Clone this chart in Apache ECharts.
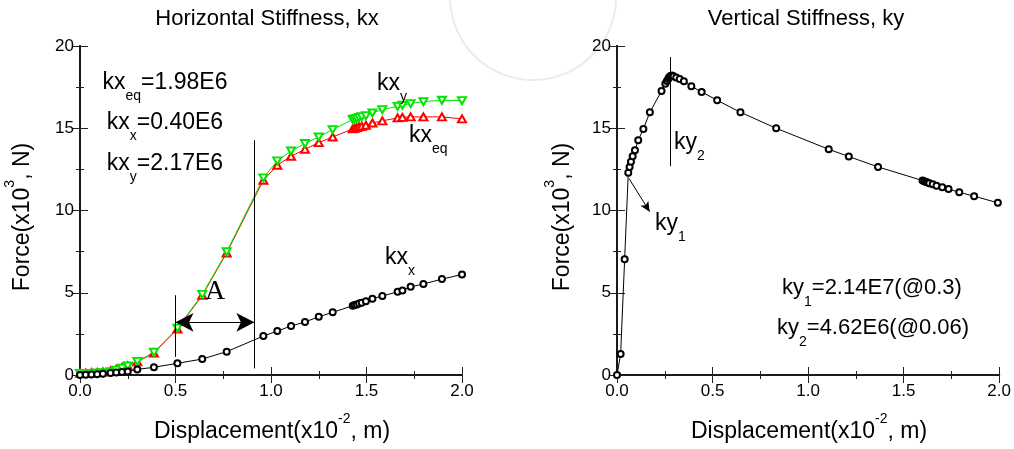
<!DOCTYPE html>
<html>
<head>
<meta charset="utf-8">
<style>
  html, body { margin: 0; padding: 0; background: #fff; }
  #chart { width: 1014px; height: 449px; }
</style>
<script src="https://cdn.jsdelivr.net/npm/echarts@6/dist/echarts.min.js"></script>
</head>
<body>
<div id="chart"></div>
<script>
// ---- left panel: horizontal stiffness (displacement x10^-2 m, force x10^3 N)
const dispH = [0, 0.03, 0.06, 0.09, 0.12, 0.16, 0.19, 0.22, 0.25, 0.30, 0.387, 0.51, 0.64, 0.768,
  0.96, 1.033, 1.105, 1.178, 1.25, 1.323, 1.428, 1.438, 1.449, 1.461, 1.475, 1.497, 1.531,
  1.583, 1.663, 1.688, 1.731, 1.798, 1.895, 2.0];
const kxEq = [0.1, 0.12, 0.14, 0.15, 0.18, 0.25, 0.35, 0.45, 0.55, 0.80, 1.34, 2.8, 4.84, 7.42,
  11.84, 12.75, 13.3, 13.72, 14.13, 14.47, 14.96, 15.0, 15.04, 15.08, 15.12, 15.18, 15.32,
  15.45, 15.63, 15.66, 15.69, 15.69, 15.69, 15.57];
const kxY = [0.1, 0.1, 0.1, 0.12, 0.14, 0.2, 0.3, 0.42, 0.55, 0.83, 1.38, 2.85, 4.9, 7.49,
  11.98, 13.02, 13.62, 14.07, 14.47, 14.92, 15.53, 15.57, 15.6, 15.65, 15.71, 15.77, 15.93,
  16.13, 16.33, 16.4, 16.5, 16.62, 16.7, 16.68];
const kxX = [0.0, 0.02, 0.03, 0.05, 0.07, 0.12, 0.15, 0.18, 0.22, 0.34, 0.47, 0.71, 0.97, 1.42,
  2.37, 2.67, 2.98, 3.22, 3.54, 3.81, 4.21, 4.25, 4.29, 4.35, 4.39, 4.49, 4.64,
  4.80, 5.06, 5.14, 5.36, 5.53, 5.83, 6.11];

// ---- right panel: vertical stiffness
const dispV = [0, 0.019, 0.040, 0.059, 0.066, 0.073, 0.082, 0.094, 0.111, 0.138, 0.172, 0.233,
  0.253, 0.261, 0.268, 0.272, 0.275, 0.280, 0.287, 0.296, 0.310, 0.328, 0.350, 0.389, 0.443,
  0.524, 0.646, 0.833, 1.108, 1.213, 1.366, 1.599, 1.608, 1.617, 1.625, 1.634, 1.652, 1.672,
  1.702, 1.735, 1.791, 1.869, 1.993];
const ky = [0, 1.28, 7.04, 12.29, 12.65, 12.96, 13.30, 13.66, 14.27, 14.96, 15.97, 17.27,
  17.71, 17.87, 18.00, 18.08, 18.12, 18.18, 18.20, 18.16, 18.08, 18.00, 17.85, 17.55, 17.21,
  16.70, 15.97, 15.00, 13.72, 13.28, 12.65, 11.82, 11.78, 11.74, 11.70, 11.66, 11.60, 11.50,
  11.42, 11.30, 11.11, 10.87, 10.47];

// tick labels
const xTicks = [0.0, 0.5, 1.0, 1.5, 2.0];
const yTicks = [0, 5, 10, 15, 20];

const FONT = '"Liberation Sans", Arial, sans-serif';
const zip = (xs, ys) => xs.map((x, i) => [x, ys[i]]);

const chart = echarts.init(document.getElementById('chart'));

const tickCommon = {
  axisLine: { show: true, lineStyle: { color: '#1a1a1a', width: 2 } },
  axisTick: { show: true, inside: true, length: 8, lineStyle: { color: '#222', width: 1 } },
  minorTick: { show: true, splitNumber: 2, length: 4, lineStyle: { color: '#222', width: 1 } },
  splitLine: { show: false }
};

const makeX = (gridIndex, position) => ({
  type: 'value', gridIndex, position,
  min: xTicks[0], max: xTicks[xTicks.length - 1], interval: xTicks[1] - xTicks[0],
  ...tickCommon,
  axisLabel: {
    show: position === 'bottom', fontSize: 17, color: '#000', fontFamily: FONT, margin: 8,
    formatter: v => v.toFixed(1)
  }
});
const makeY = (gridIndex, position) => ({
  type: 'value', gridIndex, position,
  min: yTicks[0], max: yTicks[yTicks.length - 1], interval: yTicks[1] - yTicks[0],
  ...tickCommon,
  axisLabel: { show: position === 'left', fontSize: 17, color: '#000', fontFamily: FONT, margin: 6 }
});

const lineMark = (data) => ({
  silent: true, symbol: 'none', animation: false,
  label: { show: false },
  lineStyle: { color: '#000', width: 1, type: 'solid' },
  data
});

// subscripts: main glyphs hang from the top of the line box, the small ones sit at its bottom
const rich = {
  m: { fontSize: 23, lineHeight: 26, verticalAlign: 'top', fontFamily: FONT, color: '#000' },
  n: { fontSize: 22, lineHeight: 26, verticalAlign: 'top', fontFamily: FONT, color: '#000' },
  s: { fontSize: 14, lineHeight: 32, verticalAlign: 'bottom', fontFamily: FONT, color: '#000' }
};
// superscripts: the other way round
const richSup = {
  m: { fontSize: 23, lineHeight: 31, verticalAlign: 'bottom', fontFamily: FONT, color: '#000' },
  p: { fontSize: 14, lineHeight: 12, verticalAlign: 'top', fontFamily: FONT, color: '#000' }
};

const label = (text, x, y, align) => ({
  type: 'text', x, y, z: 50,
  style: { text, rich, textAlign: align || 'left', textVerticalAlign: 'top' }
});
const plain = (text, x, y, size, family) => ({
  type: 'text', x, y, z: 50,
  style: { text, fontSize: size, fontFamily: family || FONT, fill: '#000', textAlign: 'center', textVerticalAlign: 'middle' }
});
const axisName = (text, x, y, rotation) => ({
  type: 'text', x, y, rotation: rotation || 0, z: 50,
  style: { text, rich: richSup, textAlign: 'center', textVerticalAlign: 'middle' }
});

chart.setOption({
  animation: false,
  backgroundColor: '#fff',
  grid: [
    { left: 80, top: 46, width: 382, height: 329 },
    { left: 617, top: 46, width: 383, height: 329 }
  ],
  xAxis: [makeX(0, 'bottom'), makeX(0, 'top'), makeX(1, 'bottom'), makeX(1, 'top')],
  yAxis: [makeY(0, 'left'), makeY(0, 'right'), makeY(1, 'left'), makeY(1, 'right')],
  series: [
    {
      name: 'kx_eq', type: 'line', xAxisIndex: 0, yAxisIndex: 0,
      data: zip(dispH, kxEq),
      symbol: 'emptyTriangle', symbolSize: [8, 7],
      itemStyle: { color: '#ff0000', borderWidth: 1 },
      lineStyle: { color: '#ff0000', width: 1 }
    },
    {
      name: 'kx_y', type: 'line', xAxisIndex: 0, yAxisIndex: 0,
      data: zip(dispH, kxY),
      symbol: 'emptyTriangle', symbolRotate: 180, symbolSize: [8, 7],
      itemStyle: { color: '#00e600', borderWidth: 1 },
      lineStyle: { color: '#00e600', width: 1 }
    },
    {
      name: 'kx_x', type: 'line', xAxisIndex: 0, yAxisIndex: 0,
      data: zip(dispH, kxX),
      symbol: 'emptyCircle', symbolSize: 6,
      itemStyle: { color: '#000', borderWidth: 1 },
      lineStyle: { color: '#000', width: 1 },
      markLine: lineMark([
        [{ coord: [0.5, 1.1] }, { coord: [0.5, 4.85] }],
        [{ coord: [0.913, 0.4] }, { coord: [0.913, 14.27] }],
        [
          { coord: [0.5, 3.2], symbol: 'arrow', symbolSize: [14, 18] },
          { coord: [0.913, 3.2], symbol: 'arrow', symbolSize: [14, 18] }
        ]
      ])
    },
    {
      name: 'ky', type: 'line', xAxisIndex: 2, yAxisIndex: 2,
      data: zip(dispV, ky),
      symbol: 'emptyCircle', symbolSize: 6,
      itemStyle: { color: '#000', borderWidth: 1 },
      lineStyle: { color: '#000', width: 1 },
      markLine: lineMark([
        [{ coord: [0.279, 12.69] }, { coord: [0.279, 19.33] }],
        [{ coord: [0.063, 11.94] }, { coord: [0.171, 9.93], symbol: 'arrow', symbolSize: [7, 10] }]
      ])
    }
  ],
  graphic: [
    {
      type: 'arc', z: -1, silent: true,
      shape: { cx: 533, cy: -3, r: 83, startAngle: 0, endAngle: Math.PI },
      style: { stroke: '#ebebeb', lineWidth: 2, fill: 'none' }
    },
    plain('Horizontal Stiffness, kx', 267, 19, 22),
    plain('Vertical Stiffness, ky', 806, 19, 22),
    axisName('{m|Displacement(x10}{p|-2}{m|, m)}', 272, 428),
    axisName('{m|Displacement(x10}{p|-2}{m|, m)}', 809, 428),
    axisName('{m|Force(x10}{p|3}{m|, N)}', 19, 217, Math.PI / 2),
    axisName('{m|Force(x10}{p|3}{m|, N)}', 559, 217, Math.PI / 2),
    label('{m|kx}{s|eq}{m|=1.98E6}', 165, 71, 'center'),
    label('{m|kx}{s|x}{m|=0.40E6}', 165, 111, 'center'),
    label('{m|kx}{s|y}{m|=2.17E6}', 165, 152, 'center'),
    label('{m|kx}{s|y}', 377, 72),
    label('{m|kx}{s|eq}', 409, 124),
    label('{m|kx}{s|x}', 385, 246),
    plain('A', 215, 292, 28, '"Liberation Serif", "Times New Roman", serif'),
    label('{m|ky}{s|2}', 674, 131),
    label('{m|ky}{s|1}', 655, 212),
    label('{n|ky}{s|1}{n|=2.14E7(@0.3)}', 782, 277),
    label('{n|ky}{s|2}{n|=4.62E6(@0.06)}', 777, 317)
  ]
});
</script>
</body>
</html>
